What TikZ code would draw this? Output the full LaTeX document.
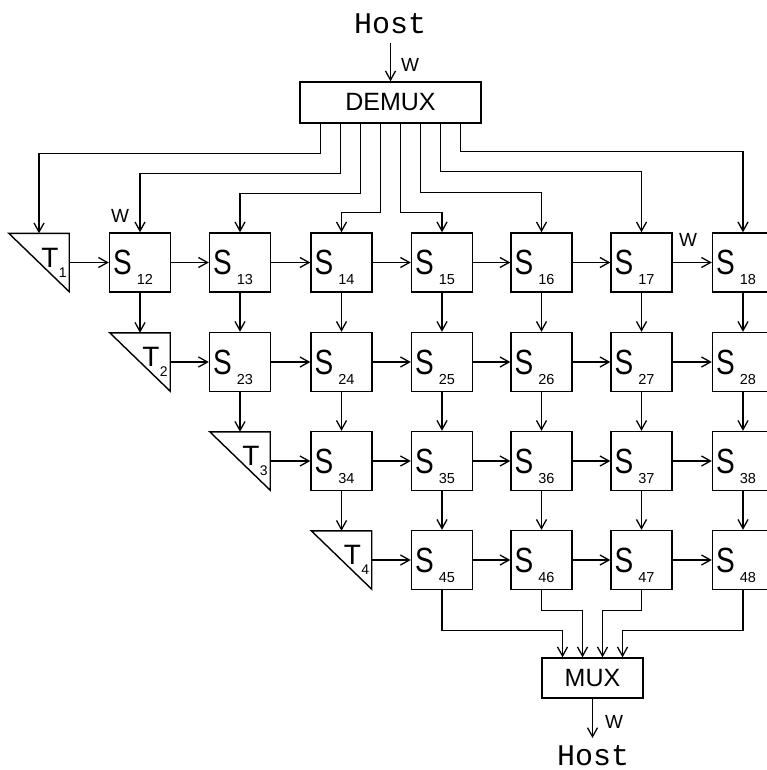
\documentclass[tikz,border=0pt]{standalone}
\usepackage{fontspec}
\usepackage{graphicx}
\setmainfont{Liberation Sans}
\newfontfamily\monof{Liberation Mono}
\usetikzlibrary{arrows.meta,calc}
\newcommand\Slab[1]{\scalebox{0.8}[1]{\fontsize{35}{35}\selectfont S}\kern5pt\raisebox{-10pt}{\fontsize{14.5}{14.5}\selectfont #1}}
\newcommand\Tlab[1]{{\fontsize{28}{28}\selectfont T}\kern0.5pt\raisebox{-10pt}{\fontsize{14}{14}\selectfont #1}}
\tikzset{
  sbox/.style={draw, line width=1.4pt, minimum width=61pt, minimum height=59pt, inner sep=0pt},
  tri/.style={minimum width=60pt, minimum height=58pt, inner sep=0pt},
  bigbox/.style={draw, line width=1.4pt, inner sep=0pt, font=\fontsize{25}{25}\selectfont},
  arr/.style={line width=1.3pt, -{Straight Barb[length=9pt,width=10pt,line width=1.3pt]}},
  lab/.style={inner sep=0pt},
  wlab/.style={inner sep=0pt, font=\fontsize{19}{19}\selectfont},
  hostlab/.style={inner sep=0pt, font=\monof\fontsize{30}{30}\selectfont}
}
\begin{document}
\begin{tikzpicture}[x=1pt,y=-1pt]
\path[use as bounding box, fill=white] (0,0) rectangle (767,770);

% grid of S cells and T triangles
\foreach \i/\y in {1/262.5,2/362,3/461,4/560}{
  \foreach \j/\x in {1/39,2/140,3/240,4/341.5,5/442,6/541.5,7/641.5,8/743}{
    \ifnum\j>\i
      \node[sbox] (S\i\j) at (\x,\y) {};
      \node[lab] at ($(S\i\j)+(-7,5)$) {\Slab{\i\j}};
    \fi
    \ifnum\j=\i
      \node[tri] (T\i) at (\x,\y) {};
      \draw[line width=1.4pt, line join=miter] (T\i.north west) -- (T\i.north east) -- (T\i.south east) -- cycle;
      \node[lab] at ($(T\i)+(15,0)$) {\Tlab{\i}};
    \fi
  }
}

% horizontal arrows
\foreach \i in {1,2,3,4}{
  \pgfmathtruncatemacro\k{\i+1}
  \draw[arr] (T\i.east) -- (S\i\k.west);
  \foreach \j in {\k,...,7}{
    \pgfmathtruncatemacro\m{\j+1}
    \draw[arr] (S\i\j.east) -- (S\i\m.west);
  }
}

% vertical arrows
\foreach \i in {1,2,3}{
  \pgfmathtruncatemacro\k{\i+1}
  \foreach \j in {\k,...,8}{
    \ifnum\j=\k
      \draw[arr] (S\i\j.south) -- (T\k.north);
    \else
      \draw[arr] (S\i\j.south) -- (S\k\j.north);
    \fi
  }
}

% DEMUX
\node[bigbox, minimum width=181pt, minimum height=41pt] (DEMUX) at (390.5,102.5) {DEMUX};
\node[hostlab] (H1) at (390,24) {Host};
\coordinate (hin) at (390.5,43);
\draw[arr] (hin) -- (DEMUX.north);
\node[wlab] at (410,65) {W};

\draw[arr] ($(DEMUX.south)+(-70,0)$) -- ++(0,30) -| (T1.north);
\draw[arr] ($(DEMUX.south)+(-50,0)$) -- ++(0,50) -| (S12.north);
\draw[arr] ($(DEMUX.south)+(-30,0)$) -- ++(0,70) -| (S13.north);
\draw[arr] ($(DEMUX.south)+(-10,0)$) -- ++(0,89) -| (S14.north);
\draw[arr] ($(DEMUX.south)+(10,0)$) -- ++(0,89) -| (S15.north);
\draw[arr] ($(DEMUX.south)+(30,0)$) -- ++(0,69) -| (S16.north);
\draw[arr] ($(DEMUX.south)+(50,0)$) -- ++(0,48) -| (S17.north);
\draw[arr] ($(DEMUX.south)+(70,0)$) -- ++(0,28) -| (S18.north);

\node[wlab] at (120,216) {W};
\node[wlab] at (688,240) {W};

% MUX
\node[bigbox, minimum width=101pt, minimum height=40pt] (MUX) at (592.5,678) {MUX};
\draw[arr] (S45.south) -- ++(0,40) -| ($(MUX.north)+(-30,0)$);
\draw[arr] (S46.south) -- ++(0,20) -| ($(MUX.north)+(-10,0)$);
\draw[arr] (S47.south) -- ++(0,20) -| ($(MUX.north)+(10,0)$);
\draw[arr] (S48.south) -- ++(0,40) -| ($(MUX.north)+(30,0)$);
\coordinate (hout) at (592.5,738);
\draw[arr] (MUX.south) -- (hout);
\node[wlab] at (614,722) {W};
\node[hostlab] (H2) at (593,756) {Host};
\end{tikzpicture}
\end{document}
